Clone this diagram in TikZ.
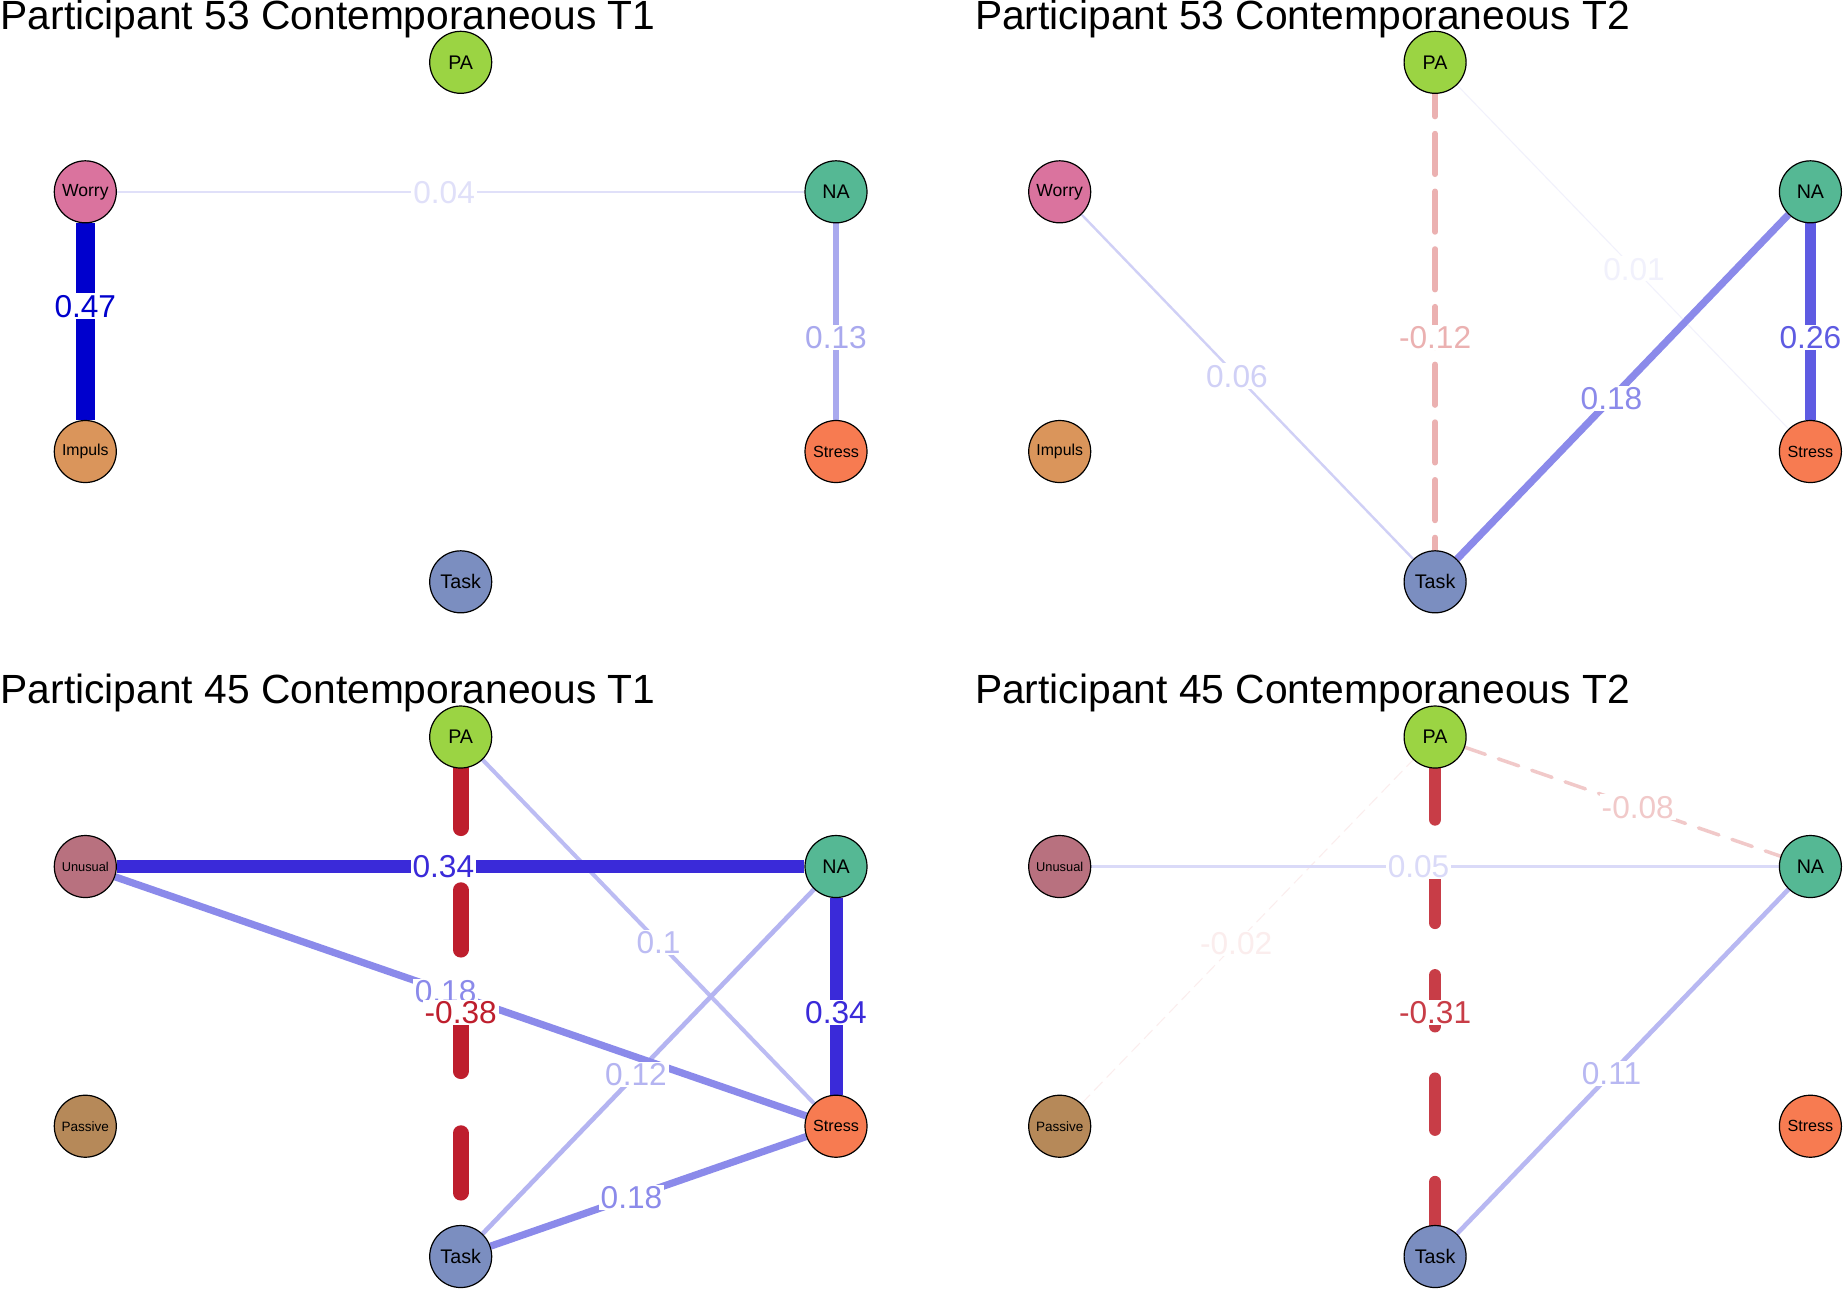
\documentclass[tikz,border=0pt]{standalone}
\usepackage{fontspec}
\setmainfont{Liberation Sans}
\usetikzlibrary{calc,backgrounds}

\newcommand{\lblsize}[1]{\fontsize{#1}{#1}\selectfont}

% node colours
\definecolor{paGreen}{HTML}{9BD443}
\definecolor{worryPink}{HTML}{DA739E}
\definecolor{naGreen}{HTML}{55B894}
\definecolor{impulsTan}{HTML}{DA955B}
\definecolor{stressRed}{HTML}{F77B51}
\definecolor{taskBlue}{HTML}{7B8EC0}
\definecolor{unusualRose}{HTML}{B8717F}
\definecolor{passiveBrown}{HTML}{B68959}

% edge colours
\definecolor{pos47}{HTML}{0000CD}
\definecolor{pos34}{HTML}{3A2AD9}
\definecolor{pos26}{HTML}{5E5BE2}
\definecolor{pos18}{HTML}{8B8AEA}
\definecolor{pos13}{HTML}{A9A9EE}
\definecolor{pos12}{HTML}{B4B4F1}
\definecolor{pos11}{HTML}{B8B8F2}
\definecolor{pos10}{HTML}{BCBCF3}
\definecolor{pos06}{HTML}{D0D0F6}
\definecolor{pos05}{HTML}{DADAF8}
\definecolor{pos04}{HTML}{E0E0F9}
\definecolor{pos01}{HTML}{F1F1FC}
\definecolor{neg38}{HTML}{BE1E2D}
\definecolor{neg31}{HTML}{C83D47}
\definecolor{neg12}{HTML}{EBB1B1}
\definecolor{neg08}{HTML}{F1C9C9}
\definecolor{neg02}{HTML}{FBEDED}

\begin{document}
\begin{tikzpicture}[x=0.1mm,y=-0.1mm,
  var/.style={circle,draw=black,line width=0.12mm,minimum size=6.2mm,inner sep=0pt},
  wt/.style={fill=white,inner xsep=0.2mm,inner ysep=0.12mm,text height=6.5pt,text depth=0pt,font=\lblsize{9pt}},
  ttl/.style={anchor=base west,inner sep=0pt,font=\lblsize{11.6pt}}]
  \useasboundingbox (0,0) rectangle (1843,1288);
  \begin{pgfonlayer}{background}
    \fill[white] (0,0) rectangle (1843,1288);
  \end{pgfonlayer}

  % ---- Participant 53, T1
  \begin{scope}
    \node[ttl] (ta) at (0,29) {Participant 53 Contemporaneous T1};
    \node[var, fill=paGreen, font=\lblsize{5.6pt}] (aPA) at (460.7,62.3) {PA};
    \node[var, fill=worryPink, font=\lblsize{5pt}] (aW) at (85.3,191.8) {Worry};
    \node[var, fill=naGreen, font=\lblsize{5.6pt}] (aNA) at (836,191.8) {NA};
    \node[var, fill=impulsTan, font=\lblsize{4.5pt}] (aI) at (85.3,451.5) {Impuls};
    \node[var, fill=stressRed, font=\lblsize{4.6pt}] (aS) at (836,451.5) {Stress};
    \node[var, fill=taskBlue, font=\lblsize{5.6pt}] (aT) at (460.7,581.8) {Task};
    \begin{pgfonlayer}{background}
      \draw[pos04, line width=0.16mm] (aW) -- (aNA);
      \draw[pos13, line width=0.52mm] (aNA) -- (aS);
      \draw[pos47, line width=1.9mm] (aW) -- (aI);
    \end{pgfonlayer}
    \node[wt, text=pos04] at ($(aW)!0.478!(aNA)$) {0.04};
    \node[wt, text=pos13] at ($(aNA)!0.56!(aS)$) {0.13};
    \node[wt, text=pos47] at ($(aW)!0.44!(aI)$) {0.47};
  \end{scope}

  % ---- Participant 53, T2
  \begin{scope}[shift={(974.4,0)}]
    \node[ttl] (tb) at (0,29) {Participant 53 Contemporaneous T2};
    \node[var, fill=paGreen, font=\lblsize{5.6pt}] (bPA) at (460.7,62.3) {PA};
    \node[var, fill=worryPink, font=\lblsize{5pt}] (bW) at (85.3,191.8) {Worry};
    \node[var, fill=naGreen, font=\lblsize{5.6pt}] (bNA) at (836,191.8) {NA};
    \node[var, fill=impulsTan, font=\lblsize{4.5pt}] (bI) at (85.3,451.5) {Impuls};
    \node[var, fill=stressRed, font=\lblsize{4.6pt}] (bS) at (836,451.5) {Stress};
    \node[var, fill=taskBlue, font=\lblsize{5.6pt}] (bT) at (460.7,581.8) {Task};
    \begin{pgfonlayer}{background}
      \draw[pos01, line width=0.1mm] (bPA) -- (bS);
      \draw[pos06, line width=0.24mm] (bW) -- (bT);
      \draw[neg12, line width=0.56mm, line cap=round, dash pattern=on 4.06mm off 1.71mm, dash phase=1.8mm] (bPA) -- (bT);
      \draw[pos18, line width=0.72mm] (bNA) -- (bT);
      \draw[pos26, line width=1.04mm] (bNA) -- (bS);
    \end{pgfonlayer}
    \node[wt, text=pos01] at ($(bPA)!0.53!(bS)$) {0.01};
    \node[wt, text=pos06] at ($(bW)!0.472!(bT)$) {0.06};
    \node[wt, text=neg12] at ($(bPA)!0.529!(bT)$) {-0.12};
    \node[wt, text=pos18] at ($(bNA)!0.53!(bT)$) {0.18};
    \node[wt, text=pos26] at ($(bNA)!0.56!(bS)$) {0.26};
  \end{scope}

  % ---- Participant 45, T1
  \begin{scope}[shift={(0,674.7)}]
    \node[ttl] (tc) at (0,29) {Participant 45 Contemporaneous T1};
    \node[var, fill=paGreen, font=\lblsize{5.6pt}] (cPA) at (460.7,62.3) {PA};
    \node[var, fill=unusualRose, font=\lblsize{3.65pt}] (cU) at (85.3,191.8) {Unusual};
    \node[var, fill=naGreen, font=\lblsize{5.6pt}] (cNA) at (836,191.8) {NA};
    \node[var, fill=passiveBrown, font=\lblsize{3.85pt}] (cP) at (85.3,451.5) {Passive};
    \node[var, fill=stressRed, font=\lblsize{4.6pt}] (cS) at (836,451.5) {Stress};
    \node[var, fill=taskBlue, font=\lblsize{5.6pt}] (cT) at (460.7,581.8) {Task};
    \begin{pgfonlayer}{background}
      \draw[pos10, line width=0.4mm] (cPA) -- (cS);
      \draw[pos12, line width=0.46mm] (cNA) -- (cT);
      \draw[pos18, line width=0.72mm] (cU) -- (cS);
      \draw[pos18, line width=0.72mm] (cT) -- (cS);
      \draw[pos34, line width=1.3mm] (cU) -- (cNA);
      \draw[pos34, line width=1.3mm] (cNA) -- (cS);
      \draw[neg38, line width=1.57mm, line cap=round, dash pattern=on 5.96mm off 6.19mm] (cPA) -- (cT);
    \end{pgfonlayer}
    \node[wt, text=pos10] at ($(cPA)!0.527!(cS)$) {0.1};
    \node[wt, text=pos12] at ($(cNA)!0.533!(cT)$) {0.12};
    \node[wt, text=pos18] at ($(cU)!0.48!(cS)$) {0.18};
    \node[wt, text=pos18] at ($(cT)!0.455!(cS)$) {0.18};
    \node[wt, text=pos34] at ($(cU)!0.477!(cNA)$) {0.34};
    \node[wt, text=pos34] at ($(cNA)!0.561!(cS)$) {0.34};
    \node[wt, text=neg38] at ($(cPA)!0.53!(cT)$) {-0.38};
  \end{scope}

  % ---- Participant 45, T2
  \begin{scope}[shift={(974.4,674.7)}]
    \node[ttl] (td) at (0,29) {Participant 45 Contemporaneous T2};
    \node[var, fill=paGreen, font=\lblsize{5.6pt}] (dPA) at (460.7,62.3) {PA};
    \node[var, fill=unusualRose, font=\lblsize{3.65pt}] (dU) at (85.3,191.8) {Unusual};
    \node[var, fill=naGreen, font=\lblsize{5.6pt}] (dNA) at (836,191.8) {NA};
    \node[var, fill=passiveBrown, font=\lblsize{3.85pt}] (dP) at (85.3,451.5) {Passive};
    \node[var, fill=stressRed, font=\lblsize{4.6pt}] (dS) at (836,451.5) {Stress};
    \node[var, fill=taskBlue, font=\lblsize{5.6pt}] (dT) at (460.7,581.8) {Task};
    \begin{pgfonlayer}{background}
      \draw[neg02, line width=0.1mm, dash pattern=on 1.2mm off 0.6mm] (dP) -- (dPA);
      \draw[pos05, line width=0.22mm] (dU) -- (dNA);
      \draw[neg08, line width=0.35mm, line cap=round, dash pattern=on 2.15mm off 1.38mm] (dPA) -- (dNA);
      \draw[pos11, line width=0.46mm] (dNA) -- (dT);
      \draw[neg31, line width=1.27mm, line cap=round, dash pattern=on 5.07mm off 5.27mm] (dPA) -- (dT);
    \end{pgfonlayer}
    \node[wt, text=neg02] at ($(dP)!0.47!(dPA)$) {-0.02};
    \node[wt, text=pos05] at ($(dU)!0.478!(dNA)$) {0.05};
    \node[wt, text=neg08] at ($(dPA)!0.54!(dNA)$) {-0.08};
    \node[wt, text=pos11] at ($(dNA)!0.53!(dT)$) {0.11};
    \node[wt, text=neg31] at ($(dPA)!0.53!(dT)$) {-0.31};
  \end{scope}
\end{tikzpicture}
\end{document}
